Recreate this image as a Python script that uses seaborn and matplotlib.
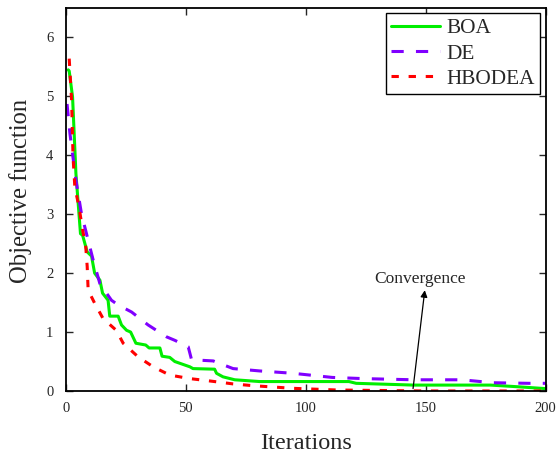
import matplotlib
matplotlib.use("Agg")
import matplotlib.pyplot as plt
import seaborn as sns
import pandas as pd

# ---- data ----
boa_x = [1, 1.4, 2.8, 4.2, 6.1, 7, 8.9, 10.7, 12, 14.2, 15.3, 17.6, 18.3, 21.8, 23.2, 25.3, 27, 29.2,
         33.3, 34.7, 39.2, 40.1, 43.3, 45.4, 51.7, 53, 62, 62.8, 65.5, 70.4, 80.8, 118, 121, 145, 177, 189, 200]
boa_y = [5.45, 5.43, 4.99, 3.69, 2.67, 2.64, 2.36, 2.29, 2.0, 1.88, 1.66, 1.54, 1.27, 1.27, 1.12, 1.03, 1.0, 0.81,
         0.78, 0.73, 0.73, 0.59, 0.57, 0.50, 0.41, 0.38, 0.37, 0.30, 0.24, 0.19, 0.16, 0.16, 0.13, 0.10, 0.10, 0.07, 0.04]

de_x = [0.5, 1.7, 4.2, 6.5, 8.6, 11.4, 14.2, 19, 21.8, 27.4, 34.3, 41.9, 45.4, 51, 52.4, 61.4, 69.7, 80.8,
        94.7, 101.7, 111, 124, 145, 165, 178, 193, 200]
de_y = [4.87, 4.37, 3.58, 3.01, 2.67, 2.22, 1.82, 1.54, 1.46, 1.34, 1.12, 0.92, 0.86, 0.75, 0.53, 0.51, 0.38, 0.34,
        0.30, 0.27, 0.23, 0.21, 0.19, 0.19, 0.14, 0.13, 0.13]

hb_x = [1.4, 2.4, 3, 3.75, 5.5, 7, 8.3, 8.9, 9.3, 12, 15.5, 21, 23.9, 30.1, 36.4, 43.3, 51.7, 60, 69.7, 78,
        94.7, 112.8, 137.8, 150, 200]
hb_y = [5.64, 4.93, 3.97, 3.46, 3.12, 2.73, 2.45, 2.11, 1.71, 1.49, 1.23, 1.03, 0.81, 0.58, 0.41, 0.27, 0.21,
        0.17, 0.12, 0.09, 0.045, 0.017, 0.005, 0.0, 0.0]

series_names = ["BOA", "DE", "HBODEA"]
x_ticks = [0, 50, 100, 150, 200]
y_ticks = [0, 1, 2, 3, 4, 5, 6]

sns.set_style("ticks")
plt.rcParams["font.family"] = ["Liberation Serif", "DejaVu Serif"]
plt.rcParams["xtick.direction"] = "in"
plt.rcParams["ytick.direction"] = "in"

df = pd.concat([
    pd.DataFrame({"Iterations": boa_x, "Objective": boa_y, "Algorithm": "BOA"}),
    pd.DataFrame({"Iterations": de_x, "Objective": de_y, "Algorithm": "DE"}),
    pd.DataFrame({"Iterations": hb_x, "Objective": hb_y, "Algorithm": "HBODEA"}),
], ignore_index=True)

fig = plt.figure(figsize=(5.58, 4.55), dpi=100)
ax = fig.add_axes([0.118, 0.1407, 0.860, 0.8418])

palette = {"BOA": "#00ee00", "DE": "#8000ff", "HBODEA": "#ff0000"}
dashes = {"BOA": "", "DE": (4, 4), "HBODEA": (2.4, 3.2)}
sns.lineplot(data=df, x="Iterations", y="Objective", hue="Algorithm", style="Algorithm",
             hue_order=series_names, style_order=series_names,
             palette=palette, dashes=dashes, linewidth=2.2, sort=False, estimator=None, ax=ax)

ax.set_xlim(0, 200)
ax.set_ylim(0, 6.5)
ax.set_xticks(x_ticks)
ax.set_yticks(y_ticks)
ax.tick_params(axis="both", labelsize=10.5, width=1.0, length=5,
               top=True, right=True, direction="in")
ax.tick_params(axis="x", pad=8)
ax.tick_params(axis="y", pad=9)
for s in ax.spines.values():
    s.set_linewidth(1.3)
    s.set_color("black")
ax.set_xlabel("Iterations", fontsize=17.5, labelpad=13)
ax.set_ylabel("Objective function", fontsize=17.7)
ax.yaxis.set_label_coords(-0.071, 0.521)

leg = ax.legend(loc="upper right", fontsize=15.3, frameon=True, fancybox=False,
                edgecolor="black", framealpha=1, handlelength=2.3, borderaxespad=0.25,
                borderpad=0.25, labelspacing=0.25, handletextpad=0.3)
leg.get_frame().set_linewidth(1.0)

ax.text(147.5, 1.9, "Convergence", ha="center", va="center", fontsize=12.5)
ax.annotate("", xy=(149.6, 1.71), xytext=(144.7, 0.04),
            arrowprops=dict(arrowstyle="-|>", color="black", lw=0.9, shrinkA=0, shrinkB=0,
                            mutation_scale=10))

fig.savefig("out.png", dpi=100)
